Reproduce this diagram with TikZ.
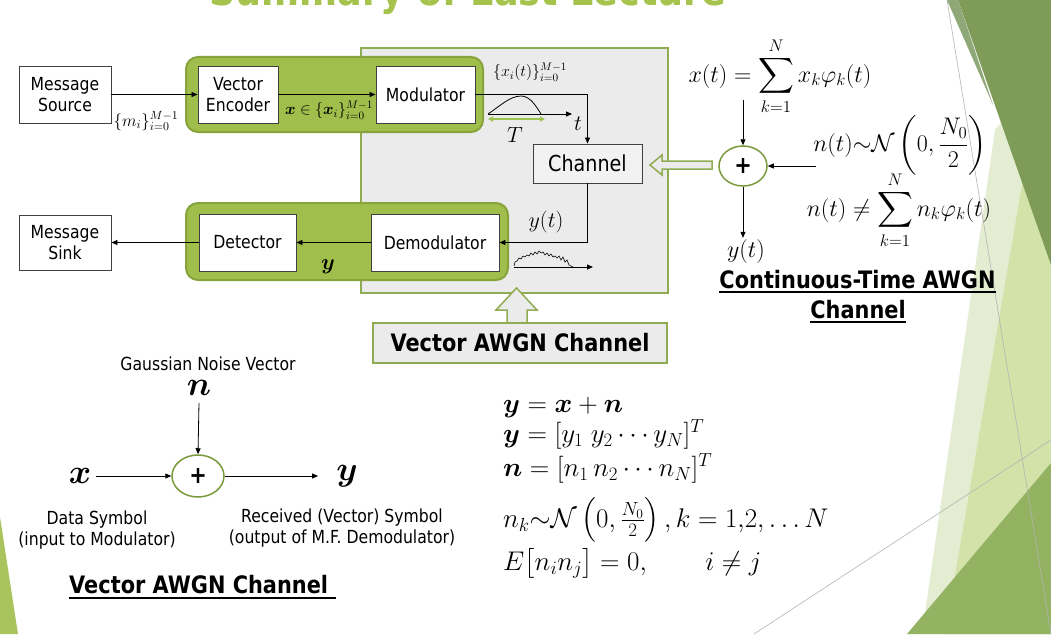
\RequirePackage{fix-cm}
\documentclass[tikz,border=0pt]{standalone}
\usepackage{amsmath,bm}
\usepackage[no-math]{fontspec}
\setmainfont{DejaVu Sans}[FakeStretch=0.87]
\usetikzlibrary{arrows.meta,shapes.geometric,calc}
\definecolor{graybg}{HTML}{EBEBEB}
\definecolor{grayborder}{HTML}{8FAC50}
\definecolor{boxline}{HTML}{404040}
\definecolor{chanfill}{HTML}{F2F2F2}
\definecolor{greenfill}{HTML}{A0BE4B}
\definecolor{greenborder}{HTML}{86A33C}
\definecolor{circgreen}{HTML}{7A9A3C}
\definecolor{pulsegreen}{HTML}{9DC34F}
\definecolor{titlegreen}{HTML}{A6C34D}
\definecolor{palegreen}{HTML}{E4ECD2}
\definecolor{lightgreen}{HTML}{D3E2A8}
\definecolor{darkolive}{HTML}{7F9B58}
\definecolor{sliver}{HTML}{8FA878}
\definecolor{midgreen}{HTML}{93B262}
\definecolor{leftgreen}{HTML}{A9C45C}
\definecolor{thinline}{HTML}{B4B4B4}
\newcommand{\lbl}{\fontsize{18}{21}\selectfont}
\newcommand{\eqf}{\fontsize{27}{32}\selectfont}
\newcommand{\mfs}{\fontsize{22}{26}\selectfont}
\newcommand{\rfs}{\fontsize{24}{28}\selectfont}
\newcommand{\sfs}{\fontsize{16}{19}\selectfont}
\newcommand{\hdf}{\bfseries\fontsize{24}{28}\selectfont}
\begin{document}
\begin{tikzpicture}[x=1pt,y=-1pt,
  wbox/.style={draw=boxline, fill=white, line width=0.9pt, inner sep=0pt, align=center, font=\lbl},
  arr/.style={-{Triangle[length=6pt,width=5pt]}, line width=0.8pt},
  gbox/.style={draw=greenborder, fill=greenfill, line width=2pt, rounded corners=12pt},
  hollow/.style={draw=grayborder, fill=graybg, line width=1.5pt},
  plusc/.style={ellipse, draw=circgreen, fill=white, line width=1.5pt, inner sep=0pt, font=\bfseries\fontsize{24}{24}\selectfont},
  ulbl/.style={anchor=base, inner sep=0pt, font=\hdf}]
\useasboundingbox (0,0) rectangle (1051,634);
\clip (0,0) rectangle (1051,634);
\fill[white] (0,0) rectangle (1051,634);
% slide decoration
\fill[palegreen] (995,130) -- (1051,60) -- (1051,634) -- (922,634) -- cycle;
\fill[lightgreen] (1028,150) -- (1051,120) -- (1051,634) -- (945,634) -- cycle;
\fill[darkolive] (958,0) -- (1051,0) -- (1051,265) -- cycle;
\fill[sliver] (947,0) -- (958,0) -- (993,105) -- cycle;
\fill[midgreen] (907,634) -- (1051,463) -- (1051,634) -- cycle;
\fill[leftgreen] (0,517) -- (18,634) -- (0,634) -- cycle;
\draw[thinline, line width=0.6pt] (947,0) -- (1051,634);
\draw[thinline, line width=0.6pt] (754,634) -- (1051,440);
% title
\node[anchor=base, text=titlegreen, inner sep=0pt, font=\bfseries\fontsize{42}{44}\selectfont] (title) at (468,6) {Summary of Last Lecture};
% gray channel region
\draw[draw=grayborder, fill=graybg, line width=1.5pt] (361,48) rectangle (668,293);
% green groups
\draw[gbox] (186,57) rectangle (483,132);
\draw[gbox] (186,203) rectangle (508,280);
% boxes
\node[wbox, minimum width=92pt, minimum height=57pt] (src) at (65,94.5) {Message\\Source};
\node[wbox, minimum width=80pt, minimum height=57pt] (enc) at (238,94.5) {Vector\\Encoder};
\node[wbox, minimum width=99pt, minimum height=57pt] (mod) at (425.5,94.5) {Modulator};
\node[wbox, fill=chanfill, minimum width=109pt, minimum height=39pt, font=\fontsize{22}{26}\selectfont] (chan) at (587.5,163.5) {Channel};
\node[wbox, minimum width=128pt, minimum height=57pt] (demod) at (435,242.5) {Demodulator};
\node[wbox, minimum width=97pt, minimum height=57pt] (det) at (247.5,242.5) {Detector};
\node[wbox, minimum width=92pt, minimum height=55pt] (sink) at (65,242.5) {Message\\Sink};
% connectors
\draw[arr] (src) -- (enc);
\draw[arr] (enc) -- (mod);
\draw[arr] (mod.east) -| (chan.north);
\draw[arr] (chan.south) |- (demod.east);
\draw[arr] (demod) -- (det);
\draw[arr] (det) -- (sink);
% labels
\node[font=\fontsize{17}{20}\selectfont, inner sep=0pt] (ml) at (146,121) {$\{m_i\}_{i=0}^{M-1}$};
\node[font=\sfs, inner sep=0pt] (xl) at (329,110) {$\bm{x}\in\{\bm{x}_i\}_{i=0}^{M-1}$};
\node[font=\sfs, inner sep=0pt] (xil) at (530,72) {$\{x_i(t)\}_{i=0}^{M-1}$};
\node[font=\mfs, inner sep=0pt] (Tl) at (515,135) {$T$};
\node[font=\mfs, inner sep=0pt] (tl) at (578,124) {$t$};
\node[font=\mfs, inner sep=0pt] (ytl) at (546,222) {$y(t)$};
\node[font=\mfs, inner sep=0pt] (ybl) at (328,267) {$\bm{y}$};
% pulse
\draw[line width=0.8pt] (488,114) .. controls (500,106) and (510,96) .. (521,96) .. controls (530,96) and (536,106) .. (541,114);
\draw[arr] (488,114) -- (572,114);
\draw[pulsegreen, line width=1.5pt, {Triangle[length=5pt,width=5pt]}-{Triangle[length=5pt,width=5pt]}] (488,119) -- (545,119);
% noise
\draw[line width=0.6pt] plot coordinates {(514,266) (515,262) (517,261) (519,258) (521,259) (523,256) (525,257) (527,255) (529,256) (531,253) (533,255) (535,252) (537,254) (539,251) (541,253) (543,252) (545,255) (547,253) (549,256) (551,254) (553,257) (555,256) (557,258) (559,256) (561,260) (563,257) (565,262) (567,260) (569,265) (571,266) (573,267)};
\draw[arr] (514,267) -- (593,267);
% hollow arrows
\draw[hollow] (712,161) -- (662,161) -- (662,155) -- (650,165) -- (662,175) -- (662,169) -- (712,169) -- cycle;
\draw[hollow] (507,324) -- (507,310) -- (496,310) -- (516.5,288) -- (537,310) -- (527,310) -- (527,324) -- cycle;
\node[draw=grayborder, fill=graybg, line width=1.5pt, minimum width=294pt, minimum height=40pt, inner sep=0pt, font=\hdf] (vac) at (520,343) {Vector AWGN Channel};
% continuous-time AWGN
\node[font=\rfs, inner sep=0pt] (xt) at (780,76) {$x(t) = \displaystyle\sum_{k=1}^{N} x_k\varphi_k(t)$};
\node[plusc, minimum width=48pt, minimum height=40pt] (pc) at (743,166) {+};
\coordinate (xsrc) at (743,100);
\coordinate (nsrc) at (816,166);
\draw[arr] (xsrc) -- (pc.north);
\draw[arr] (nsrc) -- (pc.east);
\node[font=\rfs, inner sep=1pt] (ytc) at (746,251) {$y(t)$};
\draw[arr] (pc.south) -- (pc.south |- ytc.north);
\node[font=\rfs, inner sep=0pt] (nt) at (900,145) {$n(t){\sim}\mathcal{N}\left(0,\dfrac{N_0}{2}\right)$};
\node[font=\rfs, inner sep=0pt] (nneq) at (899,210) {$n(t) \neq \displaystyle\sum_{k=1}^{N} n_k\varphi_k(t)$};
\node[ulbl] (ct1) at (857.5,288) {Continuous-Time AWGN};
\node[ulbl] (ct2) at (858,318) {Channel};
\draw[line width=1.8pt] ([yshift=-4pt]ct1.base west) -- ([yshift=-4pt]ct1.base east);
\draw[line width=1.8pt] ([yshift=-4pt]ct2.base west) -- ([yshift=-4pt]ct2.base east);
% vector AWGN channel (bottom left)
\node[font=\lbl, inner sep=0pt] (gnv) at (208,364) {Gaussian Noise Vector};
\node[font=\fontsize{34}{40}\selectfont, inner sep=0pt] (nb) at (199,388) {$\bm{n}$};
\node[plusc, minimum width=52pt, minimum height=42pt] (pb) at (198,476) {+};
\node[font=\fontsize{34}{40}\selectfont, inner sep=0pt] (xb) at (80,476) {$\bm{x}$};
\node[font=\fontsize{34}{40}\selectfont, inner sep=0pt] (yb) at (347,476) {$\bm{y}$};
\draw[arr] ([yshift=-7pt]nb.south) -- (pb.north);
\draw[arr] ([xshift=5pt]xb.east) -- (pb.west);
\draw[arr] (pb.east) -- ([xshift=-18pt]yb.west);
\node[font=\lbl, align=center, inner sep=0pt] (dsym) at (97,530) {Data Symbol\\(input to Modulator)};
\node[font=\lbl, align=center, inner sep=0pt] (rsym) at (342,528) {Received (Vector) Symbol\\(output of M.F. Demodulator)};
\node[anchor=base west, inner sep=0pt, font=\hdf] (vac2) at (69,593) {Vector AWGN Channel};
\draw[line width=1.8pt] ([yshift=-5pt]vac2.base west) -- ([yshift=-5pt,xshift=8pt]vac2.base east);
% equations
\node[anchor=base west, inner sep=0pt, font=\eqf] (e1) at (503,412) {$\bm{y} = \bm{x} + \bm{n}$};
\node[anchor=base west, inner sep=0pt, font=\eqf] (e2) at (503,442) {$\bm{y} = [y_1\ y_2 \cdots y_N]^T$};
\node[anchor=base west, inner sep=0pt, font=\eqf] (e3) at (503,476) {$\bm{n} = [n_1\, n_2 \cdots n_N]^T$};
\node[anchor=base west, inner sep=0pt, font=\eqf] (e4) at (503,527) {$n_k{\sim}\mathcal{N}\left(0,\frac{N_0}{2}\right), k = 1{,}2, \ldots N$};
\node[anchor=base west, inner sep=0pt, font=\eqf] (e5) at (503,570) {$E\bigl[n_i n_j\bigr] = 0, \qquad i \neq j$};
\end{tikzpicture}
\end{document}
